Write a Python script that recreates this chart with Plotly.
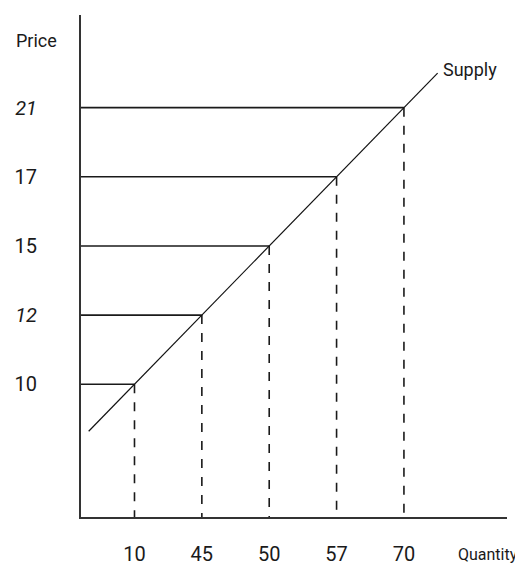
import plotly.graph_objects as go

# Data (schematic chart: axes are ordinal, not to scale)
quantities = [10, 45, 50, 57, 70]
prices = [10, 12, 15, 17, 21]
price_labels = ["10", "<i>12</i>", "15", "17", "<i>21</i>"]
qty_labels = ["10", "45", "50", "57", "70"]

FONT = "Roboto, Liberation Sans, sans-serif"
INK = "#1a1a1a"

# ordinal (category-like) positions of each marked point
x_pos = list(range(len(quantities)))
y_pos = list(range(len(prices)))

x_min, x_max = -0.794, 5.53
y_min, y_max = -1.92, 5.34

# supply line extends a little beyond the first and last marked points
EXT_LO, EXT_HI = 0.68, 0.5
supply_x = [x_pos[0] - EXT_LO] + x_pos + [x_pos[-1] + EXT_HI]
supply_y = [y_pos[0] - EXT_LO] + y_pos + [y_pos[-1] + EXT_HI]

fig = go.Figure()

for xi, yi in zip(x_pos, y_pos):
    fig.add_trace(go.Scatter(x=[x_min, xi], y=[yi, yi], mode="lines",
                             line=dict(color=INK, width=1.6),
                             hoverinfo="skip", showlegend=False))
    fig.add_trace(go.Scatter(x=[xi, xi], y=[yi, y_min], mode="lines",
                             line=dict(color=INK, width=1.6, dash="dash"),
                             hoverinfo="skip", showlegend=False))

fig.add_trace(go.Scatter(x=supply_x, y=supply_y, mode="lines",
                         line=dict(color="#111", width=1.2),
                         hoverinfo="skip", showlegend=False))

fig.add_annotation(x=supply_x[-1], y=supply_y[-1], xref="x", yref="y",
                   text="Supply", showarrow=False, xanchor="left", yanchor="middle",
                   xshift=3, yshift=4, font=dict(family=FONT, size=18, color=INK))
fig.add_annotation(x=-0.105, y=0.95, xref="paper", yref="paper", text="Price",
                   showarrow=False, xanchor="center", yanchor="middle",
                   font=dict(family=FONT, size=18, color=INK))
fig.add_annotation(x=1.03, y=-0.074, xref="paper", yref="paper", text="Quantity",
                   showarrow=False, xanchor="right", yanchor="middle",
                   font=dict(family=FONT, size=16, color=INK))

fig.update_xaxes(range=[x_min, x_max], tickvals=x_pos, ticktext=qty_labels,
                 showgrid=False, zeroline=False, showline=True, linecolor="#333",
                 linewidth=2, ticks="", ticklabelstandoff=18, tickangle=0,
                 tickfont=dict(family=FONT, size=20, color=INK))
fig.update_yaxes(range=[y_min, y_max], tickvals=y_pos, ticktext=price_labels,
                 showgrid=False, zeroline=False, showline=True, linecolor="#333",
                 linewidth=2, ticks="", ticklabelstandoff=38,
                 tickfont=dict(family=FONT, size=20, color=INK))

# the page adds an 8px body margin, so the figure is sized to fit the window
fig.update_layout(width=515, height=565, plot_bgcolor="white", paper_bgcolor="white",
                  margin=dict(l=69, r=16, t=7, b=55), showlegend=False)

fig.write_html("out.html")
